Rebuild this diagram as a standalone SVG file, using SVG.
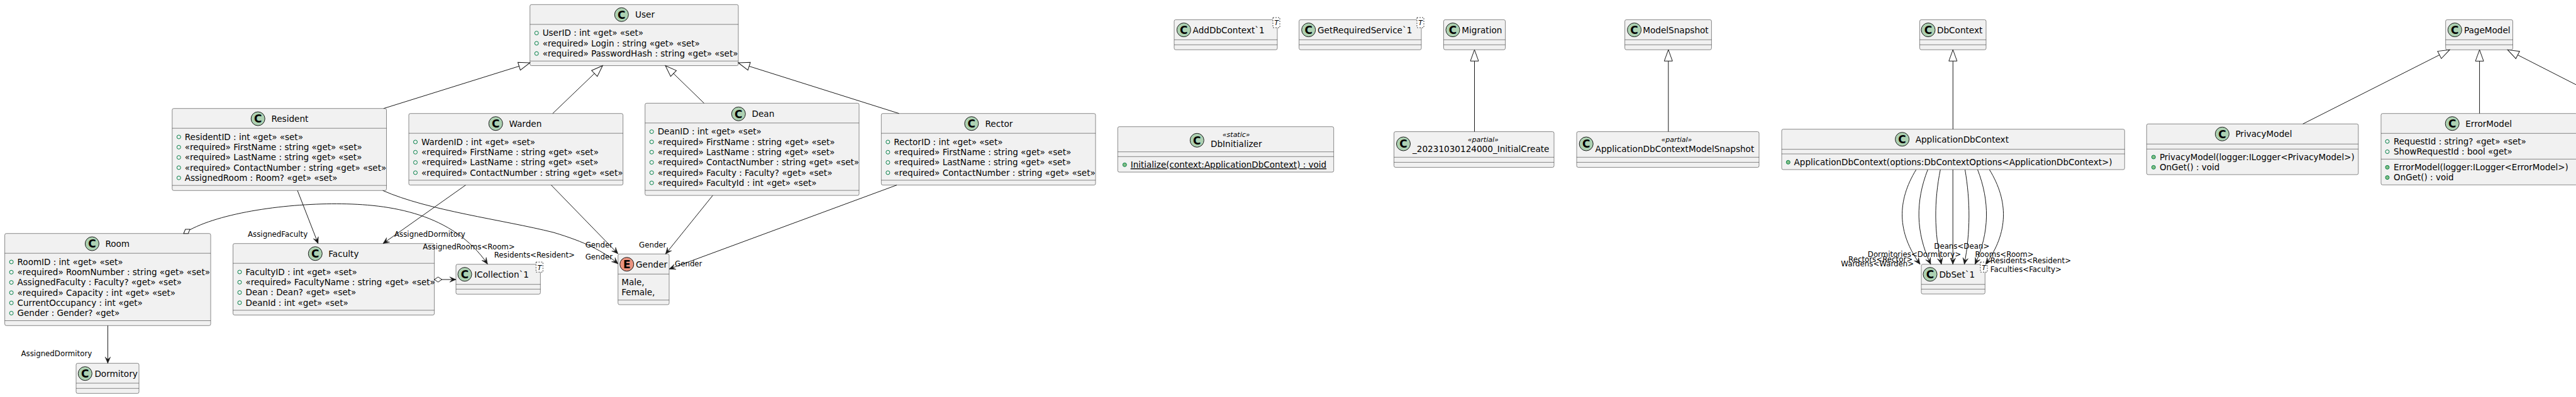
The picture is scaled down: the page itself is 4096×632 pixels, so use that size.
<svg xmlns="http://www.w3.org/2000/svg" width="4096" height="632" viewBox="0 0 4096 632">
<style>
.bg{fill:#FFFFFF}
.box{fill:#F1F1F1;stroke:#181818;stroke-width:0.5}
.sep{stroke:#181818;stroke-width:0.5;fill:none}
.ci{fill:#ADD1B2;stroke:#181818;stroke-width:1}
.ce{fill:#EB937F;stroke:#181818;stroke-width:1}
.cl{font-family:"DejaVu Sans",sans-serif;font-weight:bold;font-size:17px;text-anchor:middle;fill:#000000}
.nm{font-family:"DejaVu Sans",sans-serif;font-size:13.6px;fill:#000000}
.tx{font-family:"DejaVu Sans",sans-serif;font-size:13.5px;fill:#000000}
.st{font-family:"DejaVu Sans",sans-serif;font-size:11px;font-style:italic;text-anchor:middle;fill:#000000}
.lb{font-family:"DejaVu Sans",sans-serif;font-size:11.8px;fill:#000000}
.fo{fill:none;stroke:#038048;stroke-width:1}
.mo{fill:#84BE84;stroke:#038048;stroke-width:1}
.tpl{fill:#FFFFFF;stroke:#181818;stroke-width:0.8;stroke-dasharray:2,2}
.tt{font-family:"DejaVu Sans",sans-serif;font-size:11px;font-style:italic;text-anchor:middle;fill:#000000}
.e{fill:none;stroke:#181818;stroke-width:1}
.a{marker-end:url(#arr)}
.g{marker-end:url(#tri)}
.d{marker-start:url(#dia)}
</style>
<defs>
<marker id="arr" markerUnits="userSpaceOnUse" viewBox="-11 -5 12 10" markerWidth="12" markerHeight="10" refX="0" refY="0" orient="auto" overflow="visible"><path d="M0,0 L-10,-4.3 L-6,0 L-10,4.3 Z" fill="#181818" stroke="#181818" stroke-width="0.5"/></marker>
<marker id="tri" markerUnits="userSpaceOnUse" viewBox="-19 -8 20 16" markerWidth="20" markerHeight="16" refX="0" refY="0" orient="auto" overflow="visible"><path d="M0,0 L-18,-6.5 L-18,6.5 Z" fill="#FFFFFF" stroke="#181818" stroke-width="1"/></marker>
<marker id="dia" markerUnits="userSpaceOnUse" viewBox="-1 -5 14 10" markerWidth="14" markerHeight="10" refX="0" refY="0" orient="auto" overflow="visible"><path d="M0,0 L6,-4 L12,0 L6,4 Z" fill="#FFFFFF" stroke="#181818" stroke-width="1"/></marker>
</defs>
<rect class="bg" x="0" y="0" width="4096" height="632"/>

<g id="User">
<rect class="box" x="842.7" y="7.3" width="331.3" height="97.2" rx="2.5"/>
<circle class="ci" cx="988.3" cy="23.3" r="11"/><text class="cl" x="988.3" y="29.5">C</text>
<text class="nm" x="1010" y="28.3">User</text>
<line class="sep" x1="842.7" y1="38.8" x2="1174" y2="38.8"/>
<circle class="fo" cx="853.2" cy="52.6" r="3"/><text class="tx" x="862.7" y="57.3">UserID : int «get» «set»</text>
<circle class="fo" cx="853.2" cy="68.9" r="3"/><text class="tx" x="862.7" y="73.6">«required» Login : string «get» «set»</text>
<circle class="fo" cx="853.2" cy="85.2" r="3"/><text class="tx" x="862.7" y="89.9">«required» PasswordHash : string «get» «set»</text>
<line class="sep" x1="842.7" y1="97.2" x2="1174" y2="97.2"/>
</g>

<g id="Resident">
<rect class="box" x="273.8" y="172.7" width="340.7" height="130.6" rx="2.5"/>
<circle class="ci" cx="410.2" cy="189" r="11"/><text class="cl" x="410.2" y="195.2">C</text>
<text class="nm" x="431.4" y="194">Resident</text>
<line class="sep" x1="273.8" y1="204.2" x2="614.5" y2="204.2"/>
<circle class="fo" cx="284.3" cy="218" r="3"/><text class="tx" x="293.8" y="222.7">ResidentID : int «get» «set»</text>
<circle class="fo" cx="284.3" cy="234.3" r="3"/><text class="tx" x="293.8" y="239">«required» FirstName : string «get» «set»</text>
<circle class="fo" cx="284.3" cy="250.6" r="3"/><text class="tx" x="293.8" y="255.3">«required» LastName : string «get» «set»</text>
<circle class="fo" cx="284.3" cy="266.9" r="3"/><text class="tx" x="293.8" y="271.6">«required» ContactNumber : string «get» «set»</text>
<circle class="fo" cx="284.3" cy="283.2" r="3"/><text class="tx" x="293.8" y="287.9">AssignedRoom : Room? «get» «set»</text>
<line class="sep" x1="273.8" y1="295.2" x2="614.5" y2="295.2"/>
</g>

<g id="Warden">
<rect class="box" x="650" y="180.7" width="340.6" height="113.9" rx="2.5"/>
<circle class="ci" cx="788.2" cy="196.7" r="11"/><text class="cl" x="788.2" y="202.9">C</text>
<text class="nm" x="809.4" y="201.7">Warden</text>
<line class="sep" x1="650" y1="212.2" x2="990.6" y2="212.2"/>
<circle class="fo" cx="660.5" cy="226" r="3"/><text class="tx" x="670" y="230.7">WardenID : int «get» «set»</text>
<circle class="fo" cx="660.5" cy="242.3" r="3"/><text class="tx" x="670" y="247">«required» FirstName : string «get» «set»</text>
<circle class="fo" cx="660.5" cy="258.6" r="3"/><text class="tx" x="670" y="263.3">«required» LastName : string «get» «set»</text>
<circle class="fo" cx="660.5" cy="274.9" r="3"/><text class="tx" x="670" y="279.6">«required» ContactNumber : string «get» «set»</text>
<line class="sep" x1="650" y1="286.9" x2="990.6" y2="286.9"/>
</g>

<g id="Dean">
<rect class="box" x="1025.7" y="164.3" width="340.3" height="146.8" rx="2.5"/>
<circle class="ci" cx="1174.3" cy="181.3" r="11"/><text class="cl" x="1174.3" y="187.5">C</text>
<text class="nm" x="1195.5" y="186.3">Dean</text>
<line class="sep" x1="1025.7" y1="195.8" x2="1366" y2="195.8"/>
<circle class="fo" cx="1036.2" cy="209.6" r="3"/><text class="tx" x="1045.7" y="214.3">DeanID : int «get» «set»</text>
<circle class="fo" cx="1036.2" cy="225.9" r="3"/><text class="tx" x="1045.7" y="230.6">«required» FirstName : string «get» «set»</text>
<circle class="fo" cx="1036.2" cy="242.2" r="3"/><text class="tx" x="1045.7" y="246.9">«required» LastName : string «get» «set»</text>
<circle class="fo" cx="1036.2" cy="258.5" r="3"/><text class="tx" x="1045.7" y="263.2">«required» ContactNumber : string «get» «set»</text>
<circle class="fo" cx="1036.2" cy="274.8" r="3"/><text class="tx" x="1045.7" y="279.5">«required» Faculty : Faculty? «get» «set»</text>
<circle class="fo" cx="1036.2" cy="291.1" r="3"/><text class="tx" x="1045.7" y="295.8">«required» FacultyId : int «get» «set»</text>
<line class="sep" x1="1025.7" y1="303.1" x2="1366" y2="303.1"/>
</g>

<g id="Rector">
<rect class="box" x="1401.3" y="180.7" width="340.7" height="113.9" rx="2.5"/>
<circle class="ci" cx="1544.8" cy="196.7" r="11"/><text class="cl" x="1544.8" y="202.9">C</text>
<text class="nm" x="1566.5" y="201.7">Rector</text>
<line class="sep" x1="1401.3" y1="212.2" x2="1742" y2="212.2"/>
<circle class="fo" cx="1411.8" cy="226" r="3"/><text class="tx" x="1421.3" y="230.7">RectorID : int «get» «set»</text>
<circle class="fo" cx="1411.8" cy="242.3" r="3"/><text class="tx" x="1421.3" y="247">«required» FirstName : string «get» «set»</text>
<circle class="fo" cx="1411.8" cy="258.6" r="3"/><text class="tx" x="1421.3" y="263.3">«required» LastName : string «get» «set»</text>
<circle class="fo" cx="1411.8" cy="274.9" r="3"/><text class="tx" x="1421.3" y="279.6">«required» ContactNumber : string «get» «set»</text>
<line class="sep" x1="1401.3" y1="286.9" x2="1742" y2="286.9"/>
</g>

<g id="Room">
<rect class="box" x="7.6" y="371.7" width="327.4" height="146.6" rx="2.5"/>
<circle class="ci" cx="146.4" cy="388" r="11"/><text class="cl" x="146.4" y="394.2">C</text>
<text class="nm" x="167.4" y="393">Room</text>
<line class="sep" x1="7.6" y1="403.2" x2="335" y2="403.2"/>
<circle class="fo" cx="18.1" cy="417" r="3"/><text class="tx" x="27.6" y="421.7">RoomID : int «get» «set»</text>
<circle class="fo" cx="18.1" cy="433.3" r="3"/><text class="tx" x="27.6" y="438">«required» RoomNumber : string «get» «set»</text>
<circle class="fo" cx="18.1" cy="449.6" r="3"/><text class="tx" x="27.6" y="454.3">AssignedFaculty : Faculty? «get» «set»</text>
<circle class="fo" cx="18.1" cy="465.9" r="3"/><text class="tx" x="27.6" y="470.6">«required» Capacity : int «get» «set»</text>
<circle class="fo" cx="18.1" cy="482.2" r="3"/><text class="tx" x="27.6" y="486.9">CurrentOccupancy : int «get»</text>
<circle class="fo" cx="18.1" cy="498.5" r="3"/><text class="tx" x="27.6" y="503.2">Gender : Gender? «get»</text>
<line class="sep" x1="7.6" y1="510.5" x2="335" y2="510.5"/>
</g>

<g id="Faculty">
<rect class="box" x="370.5" y="387.7" width="320.1" height="113.8" rx="2.5"/>
<circle class="ci" cx="501.3" cy="403.7" r="11"/><text class="cl" x="501.3" y="409.9">C</text>
<text class="nm" x="522.3" y="408.7">Faculty</text>
<line class="sep" x1="370.5" y1="419.2" x2="690.6" y2="419.2"/>
<circle class="fo" cx="381" cy="433" r="3"/><text class="tx" x="390.5" y="437.7">FacultyID : int «get» «set»</text>
<circle class="fo" cx="381" cy="449.3" r="3"/><text class="tx" x="390.5" y="454">«required» FacultyName : string «get» «set»</text>
<circle class="fo" cx="381" cy="465.6" r="3"/><text class="tx" x="390.5" y="470.3">Dean : Dean? «get» «set»</text>
<circle class="fo" cx="381" cy="481.9" r="3"/><text class="tx" x="390.5" y="486.6">DeanId : int «get» «set»</text>
<line class="sep" x1="370.5" y1="493.9" x2="690.6" y2="493.9"/>
</g>

<g id="Dormitory">
<rect class="box" x="121" y="578.3" width="100" height="48" rx="2.5"/>
<circle class="ci" cx="135.3" cy="594.7" r="11"/><text class="cl" x="135.3" y="600.9">C</text>
<text class="nm" x="150.4" y="599.7">Dormitory</text>
<line class="sep" x1="121" y1="610" x2="221" y2="610"/>
<line class="sep" x1="121" y1="618.3" x2="221" y2="618.3"/>
</g>

<g id="ICollection_1">
<rect class="box" x="725" y="420.7" width="134.3" height="47.6" rx="2.5"/>
<circle class="ci" cx="739" cy="436.7" r="11"/><text class="cl" x="739" y="442.9">C</text>
<text class="nm" x="754.3" y="441.7">ICollection`1</text>
<line class="sep" x1="725" y1="452.7" x2="859.3" y2="452.7"/>
<line class="sep" x1="725" y1="460.3" x2="859.3" y2="460.3"/>
<rect class="tpl" x="852.3" y="417.2" width="11" height="16"/><text class="tt" x="857.8" y="429.5">T</text>
</g>

<g id="Gender">
<rect class="box" x="982.7" y="404.3" width="81.3" height="80.7" rx="2.5"/>
<circle class="ce" cx="996.7" cy="420.7" r="11"/><text class="cl" x="996.7" y="426.9">E</text>
<text class="nm" x="1011" y="425.7">Gender</text>
<line class="sep" x1="982.7" y1="436.3" x2="1064" y2="436.3"/>
<text class="tx" x="988.3" y="454.2">Male,</text>
<text class="tx" x="988.3" y="469.7">Female,</text>
<line class="sep" x1="982.7" y1="477.7" x2="1064" y2="477.7"/>
</g>

<g id="AddDbContext_1">
<rect class="box" x="1867" y="31.4" width="164" height="47.8" rx="2.5"/>
<circle class="ci" cx="1882.3" cy="47.6" r="11"/><text class="cl" x="1882.3" y="53.8">C</text>
<text class="nm" x="1896.6" y="52.6">AddDbContext`1</text>
<line class="sep" x1="1867" y1="63.3" x2="2031" y2="63.3"/>
<line class="sep" x1="1867" y1="71.3" x2="2031" y2="71.3"/>
<rect class="tpl" x="2024" y="28" width="11" height="16"/><text class="tt" x="2029.5" y="40.3">T</text>
</g>

<g id="GetRequiredService_1">
<rect class="box" x="2065.6" y="31.4" width="194.4" height="47.8" rx="2.5"/>
<circle class="ci" cx="2080.7" cy="47.6" r="11"/><text class="cl" x="2080.7" y="53.8">C</text>
<text class="nm" x="2095" y="52.6">GetRequiredService`1</text>
<line class="sep" x1="2065.6" y1="63.3" x2="2260" y2="63.3"/>
<line class="sep" x1="2065.6" y1="71.3" x2="2260" y2="71.3"/>
<rect class="tpl" x="2253" y="28" width="11" height="16"/><text class="tt" x="2258.5" y="40.3">T</text>
</g>

<g id="Migration">
<rect class="box" x="2295.5" y="31.4" width="98" height="47.8" rx="2.5"/>
<circle class="ci" cx="2310" cy="47.6" r="11"/><text class="cl" x="2310" y="53.8">C</text>
<text class="nm" x="2324.3" y="52.6">Migration</text>
<line class="sep" x1="2295.5" y1="63.3" x2="2393.5" y2="63.3"/>
<line class="sep" x1="2295.5" y1="71.3" x2="2393.5" y2="71.3"/>
</g>

<g id="ModelSnapshot">
<rect class="box" x="2583.6" y="31.4" width="137.8" height="47.8" rx="2.5"/>
<circle class="ci" cx="2598.6" cy="47.6" r="11"/><text class="cl" x="2598.6" y="53.8">C</text>
<text class="nm" x="2612.3" y="52.6">ModelSnapshot</text>
<line class="sep" x1="2583.6" y1="63.3" x2="2721.4" y2="63.3"/>
<line class="sep" x1="2583.6" y1="71.3" x2="2721.4" y2="71.3"/>
</g>

<g id="DbContext">
<rect class="box" x="3052.5" y="31.4" width="105.5" height="47.8" rx="2.5"/>
<circle class="ci" cx="3066" cy="47.6" r="11"/><text class="cl" x="3066" y="53.8">C</text>
<text class="nm" x="3080" y="52.6">DbContext</text>
<line class="sep" x1="3052.5" y1="63.3" x2="3158" y2="63.3"/>
<line class="sep" x1="3052.5" y1="71.3" x2="3158" y2="71.3"/>
</g>

<g id="PageModel">
<rect class="box" x="3888.7" y="31.4" width="106.8" height="47.9" rx="2.5"/>
<circle class="ci" cx="3903.3" cy="47.6" r="11"/><text class="cl" x="3903.3" y="53.8">C</text>
<text class="nm" x="3917.9" y="52.6">PageModel</text>
<line class="sep" x1="3888.7" y1="63.3" x2="3995.5" y2="63.3"/>
<line class="sep" x1="3888.7" y1="71.3" x2="3995.5" y2="71.3"/>
</g>

<g id="DbInitializer">
<rect class="box" x="1777.3" y="201.7" width="343.4" height="72.3" rx="2.5"/>
<circle class="ci" cx="1903.3" cy="223.3" r="11"/><text class="cl" x="1903.3" y="229.5">C</text>
<text class="st" x="1965.7" y="218">«static»</text>
<text class="nm" x="1925" y="234">DbInitializer</text>
<line class="sep" x1="1777.3" y1="241.7" x2="2120.7" y2="241.7"/>
<line class="sep" x1="1777.3" y1="249.3" x2="2120.7" y2="249.3"/>
<circle class="mo" cx="1788.3" cy="262.3" r="3"/><text class="tx" x="1797.7" y="267" text-decoration="underline">Initialize(context:ApplicationDbContext) : void</text>
</g>

<g id="InitialCreate">
<rect class="box" x="2216.5" y="209.6" width="254.5" height="56.8" rx="2.5"/>
<circle class="ci" cx="2231.5" cy="229" r="11"/><text class="cl" x="2231.5" y="235.2">C</text>
<text class="st" x="2358.3" y="225.5">«partial»</text>
<text class="nm" x="2246" y="241.6">_20231030124000_InitialCreate</text>
<line class="sep" x1="2216.5" y1="250.3" x2="2471" y2="250.3"/>
<line class="sep" x1="2216.5" y1="258.4" x2="2471" y2="258.4"/>
</g>

<g id="ApplicationDbContextModelSnapshot">
<rect class="box" x="2507" y="209.6" width="290" height="56.8" rx="2.5"/>
<circle class="ci" cx="2522.2" cy="229" r="11"/><text class="cl" x="2522.2" y="235.2">C</text>
<text class="st" x="2665.9" y="225.5">«partial»</text>
<text class="nm" x="2536.6" y="241.6">ApplicationDbContextModelSnapshot</text>
<line class="sep" x1="2507" y1="250.3" x2="2797" y2="250.3"/>
<line class="sep" x1="2507" y1="258.4" x2="2797" y2="258.4"/>
</g>

<g id="ApplicationDbContext">
<rect class="box" x="2833" y="205.7" width="545.3" height="64.3" rx="2.5"/>
<circle class="ci" cx="3024.6" cy="221.7" r="11"/><text class="cl" x="3024.6" y="227.9">C</text>
<text class="nm" x="3045.7" y="226.7">ApplicationDbContext</text>
<line class="sep" x1="2833" y1="237.7" x2="3378.3" y2="237.7"/>
<line class="sep" x1="2833" y1="245" x2="3378.3" y2="245"/>
<circle class="mo" cx="2843.3" cy="258.3" r="3"/><text class="tx" x="2852.6" y="263">ApplicationDbContext(options:DbContextOptions&lt;ApplicationDbContext&gt;)</text>
</g>

<g id="DbSet_1">
<rect class="box" x="3055" y="420.7" width="101.3" height="47.3" rx="2.5"/>
<circle class="ci" cx="3069" cy="436.7" r="11"/><text class="cl" x="3069" y="442.9">C</text>
<text class="nm" x="3083.4" y="441.7">DbSet`1</text>
<line class="sep" x1="3055" y1="452.7" x2="3156.3" y2="452.7"/>
<line class="sep" x1="3055" y1="460.3" x2="3156.3" y2="460.3"/>
<rect class="tpl" x="3149" y="417.2" width="11" height="16"/><text class="tt" x="3154.5" y="429.5">T</text>
</g>

<g id="PrivacyModel">
<rect class="box" x="3413.3" y="197.3" width="336.6" height="80.7" rx="2.5"/>
<circle class="ci" cx="3533.4" cy="213.3" r="11"/><text class="cl" x="3533.4" y="219.5">C</text>
<text class="nm" x="3554.4" y="218.3">PrivacyModel</text>
<line class="sep" x1="3413.3" y1="229.3" x2="3749.9" y2="229.3"/>
<line class="sep" x1="3413.3" y1="237.3" x2="3749.9" y2="237.3"/>
<circle class="mo" cx="3424.3" cy="250" r="3"/><text class="tx" x="3433.9" y="254.7">PrivacyModel(logger:ILogger&lt;PrivacyModel&gt;)</text>
<circle class="mo" cx="3424.3" cy="266.3" r="3"/><text class="tx" x="3433.9" y="271">OnGet() : void</text>
</g>

<g id="ErrorModel">
<rect class="box" x="3786" y="180.7" width="312" height="113.6" rx="2.5"/>
<circle class="ci" cx="3899.2" cy="196.7" r="11"/><text class="cl" x="3899.2" y="202.9">C</text>
<text class="nm" x="3920.2" y="201.7">ErrorModel</text>
<line class="sep" x1="3786" y1="212.3" x2="4098" y2="212.3"/>
<circle class="fo" cx="3796" cy="225.2" r="3"/><text class="tx" x="3806" y="229.9">RequestId : string? «get» «set»</text>
<circle class="fo" cx="3796" cy="241.5" r="3"/><text class="tx" x="3806" y="246.2">ShowRequestId : bool «get»</text>
<line class="sep" x1="3786" y1="253.3" x2="4098" y2="253.3"/>
<circle class="mo" cx="3796" cy="266.3" r="3"/><text class="tx" x="3806" y="271">ErrorModel(logger:ILogger&lt;ErrorModel&gt;)</text>
<circle class="mo" cx="3796" cy="282.6" r="3"/><text class="tx" x="3806" y="287.3">OnGet() : void</text>
</g>

<g id="connectors">
<path class="e g" d="M610,172.7 L842.6,100"/>
<path class="e g" d="M878.8,180.7 L958.2,104.5"/>
<path class="e g" d="M1119.5,164.3 L1058,104.5"/>
<path class="e g" d="M1429.6,180.7 L1174,100"/>
<path class="e g" d="M2344.5,209.6 L2344.5,79.2"/>
<path class="e g" d="M2652.8,209.6 L2652.8,79.2"/>
<path class="e g" d="M3105.3,205.7 L3105.3,79.2"/>
<path class="e g" d="M3661.7,197.3 L3895,79.3"/>
<path class="e g" d="M3942.6,180.7 L3942.6,79.3"/>
<path class="e g" d="M4110,142 L3987.3,79.3"/>

<path class="e a" d="M473,303.3 L505.8,387.7"/>
<path class="e a" d="M740.5,294.6 L609,387.7"/>
<path class="e a" d="M876.4,294.6 L982.7,404"/>
<path class="e a" d="M1133.3,311.1 L1058.3,404.3"/>
<path class="e a" d="M1426,294.6 L1064,428.3"/>
<path class="e a" d="M608.7,303.3 C680,335 800,350 880,370 C930,385 960,400 982.7,420"/>
<path class="e a d" d="M292,371.7 C340,340 450,324 535.6,324.5 C621,324.5 720,340 775.3,420.4"/>
<path class="e a d" d="M690.6,445 L725,445"/>
<path class="e a" d="M171.4,518.3 L171.4,578.3"/>

<path class="e a" d="M3046.8,270 C3016.2,320 3016.2,370 3053,420.7"/>
<path class="e a" d="M3065.3,270 C3045.7,320 3045.7,370 3070,420.7"/>
<path class="e a" d="M3085.3,270 C3075.2,320 3075.2,370 3087,420.7"/>
<path class="e a" d="M3105.2,270 L3105.2,420.7"/>
<path class="e a" d="M3124.5,270 C3133.1,320 3133.1,370 3123.4,420.7"/>
<path class="e a" d="M3144.5,270 C3163.9,320 3163.9,370 3140.4,420.7"/>
<path class="e a" d="M3163.3,270 C3193.9,320 3193.9,370 3157.4,420.7"/>

<text class="lb" x="394" y="377">AssignedFaculty</text>
<text class="lb" x="627" y="376.7">AssignedDormitory</text>
<text class="lb" x="672.3" y="396.5">AssignedRooms&lt;Room&gt;</text>
<text class="lb" x="785.7" y="410.3">Residents&lt;Resident&gt;</text>
<text class="lb" x="930.7" y="393.6">Gender</text>
<text class="lb" x="930.7" y="413.3">Gender</text>
<text class="lb" x="1016" y="393.6">Gender</text>
<text class="lb" x="1073" y="424">Gender</text>
<text class="lb" x="33.5" y="567">AssignedDormitory</text>
<text class="lb" x="2969.8" y="409">Dormitories&lt;Dormitory&gt;</text>
<text class="lb" x="2939" y="416.5">Rectors&lt;Rector&gt;</text>
<text class="lb" x="2927.3" y="423.5">Wardens&lt;Warden&gt;</text>
<text class="lb" x="3075.3" y="395.5">Deans&lt;Dean&gt;</text>
<text class="lb" x="3140.6" y="409">Rooms&lt;Room&gt;</text>
<text class="lb" x="3164.8" y="418.5">Residents&lt;Resident&gt;</text>
<text class="lb" x="3164.8" y="433">Faculties&lt;Faculty&gt;</text>
</g>
</svg>
